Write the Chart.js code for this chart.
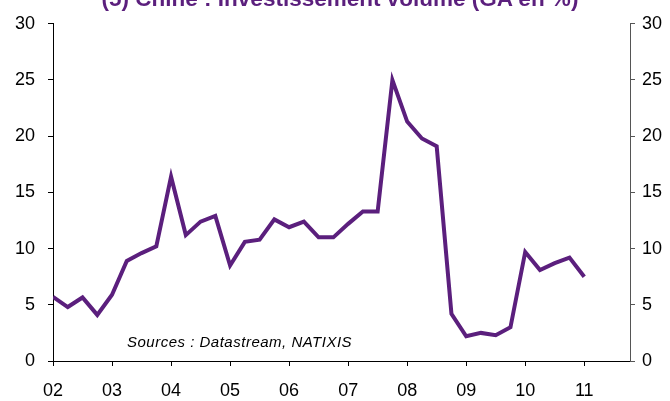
<!DOCTYPE html>
<html lang="fr">
<head>
  <meta charset="UTF-8">
  <title>Chine : Investissement volume</title>
  <style>
    html, body {
      margin: 0;
      padding: 0;
      background: #fff;
      overflow: hidden;
    }
    .wrap {
      position: relative;
      width: 670px;
      height: 401px;
      overflow: hidden;
    }
    .title {
      position: absolute;
      left: 0;
      width: 680px;
      top: -14.5px;
      line-height: normal;
      text-align: center;
      font: bold 22.5px "Liberation Sans", Arial, sans-serif;
      color: #5B1F7D;
      white-space: nowrap;
    }
    .source {
      position: absolute;
      left: 127px;
      top: 333px;
      font: italic 15px "Liberation Sans", Arial, sans-serif;
      letter-spacing: 0.5px;
      color: #000;
      white-space: nowrap;
    }
  </style>
</head>
<body>
  <div class="wrap">
    <canvas id="chart" width="670" height="401"></canvas>
    <div class="title">(5) Chine : Investissement volume (GA en %)</div>
    <div class="source">Sources : Datastream, NATIXIS</div>
  </div>

  <script src="https://cdn.jsdelivr.net/npm/chart.js"></script>
  <script>
    // trimestres 2002T1 .. 2011T1
    const quarters = [
      "2002T1", "2002T2", "2002T3", "2002T4",
      "2003T1", "2003T2", "2003T3", "2003T4",
      "2004T1", "2004T2", "2004T3", "2004T4",
      "2005T1", "2005T2", "2005T3", "2005T4",
      "2006T1", "2006T2", "2006T3", "2006T4",
      "2007T1", "2007T2", "2007T3", "2007T4",
      "2008T1", "2008T2", "2008T3", "2008T4",
      "2009T1", "2009T2", "2009T3", "2009T4",
      "2010T1", "2010T2", "2010T3", "2010T4",
      "2011T1"
    ];
    const investVolume = [
      5.7, 4.8, 5.65, 4.1,
      5.9, 8.9, 9.6, 10.2,
      16.4, 11.2, 12.4, 12.9,
      8.5, 10.6, 10.8, 12.6,
      11.9, 12.4, 11.0, 11.0,
      12.2, 13.3, 13.3, 25.0,
      21.3, 19.8, 19.1, 4.2,
      2.2, 2.5, 2.3, 3.0,
      9.7, 8.1, 8.7, 9.2,
      7.5
    ];
    const yearLabels = ["02", "03", "04", "05", "06", "07", "08", "09", "10", "11"];
    const yTicks = [0, 5, 10, 15, 20, 25, 30];

    const purple = "#5B1F7D";
    const tickFont = { family: "'Liberation Sans', Arial, sans-serif", size: 18 };

    const points = investVolume.map((v, i) => ({ x: i, y: v }));

    const yAxis = (pos, width, pad, border) => ({
      type: "linear",
      position: pos,
      min: 0,
      max: 30,
      afterBuildTicks: s => { s.ticks = yTicks.map(v => ({ value: v })); },
      afterFit: s => { s.width = width; },
      ticks: { color: "#000", font: tickFont, padding: pad },
      grid: { drawOnChartArea: false, drawTicks: true, tickLength: 5, color: border },
      border: { display: true, color: border, width: 1 }
    });

    new Chart(document.getElementById("chart"), {
      type: "line",
      data: {
        datasets: [{
          label: "Investissement volume",
          data: points,
          borderColor: purple,
          borderWidth: 4,
          pointRadius: 0,
          tension: 0,
          fill: false
        }]
      },
      options: {
        responsive: false,
        animation: false,
        devicePixelRatio: 1,
        layout: { padding: { top: 23, left: 0, right: 0, bottom: 0 } },
        plugins: {
          legend: { display: false },
          tooltip: { enabled: false }
        },
        scales: {
          x: {
            type: "linear",
            min: 0,
            max: 39.1,
            afterBuildTicks: s => { s.ticks = yearLabels.map((_, i) => ({ value: i * 4 })); },
            afterFit: s => { s.height = 40; },
            ticks: {
              color: "#000",
              font: tickFont,
              padding: 14,
              maxRotation: 0,
              autoSkip: false,
              callback: v => yearLabels[v / 4]
            },
            grid: { drawOnChartArea: false, drawTicks: true, tickLength: 5, color: "#000" },
            border: { display: true, color: "#000", width: 1 }
          },
          y: yAxis("left", 53, 13, "#000"),
          y2: yAxis("right", 40, 7, "#555")
        }
      }
    });
  </script>
</body>
</html>
